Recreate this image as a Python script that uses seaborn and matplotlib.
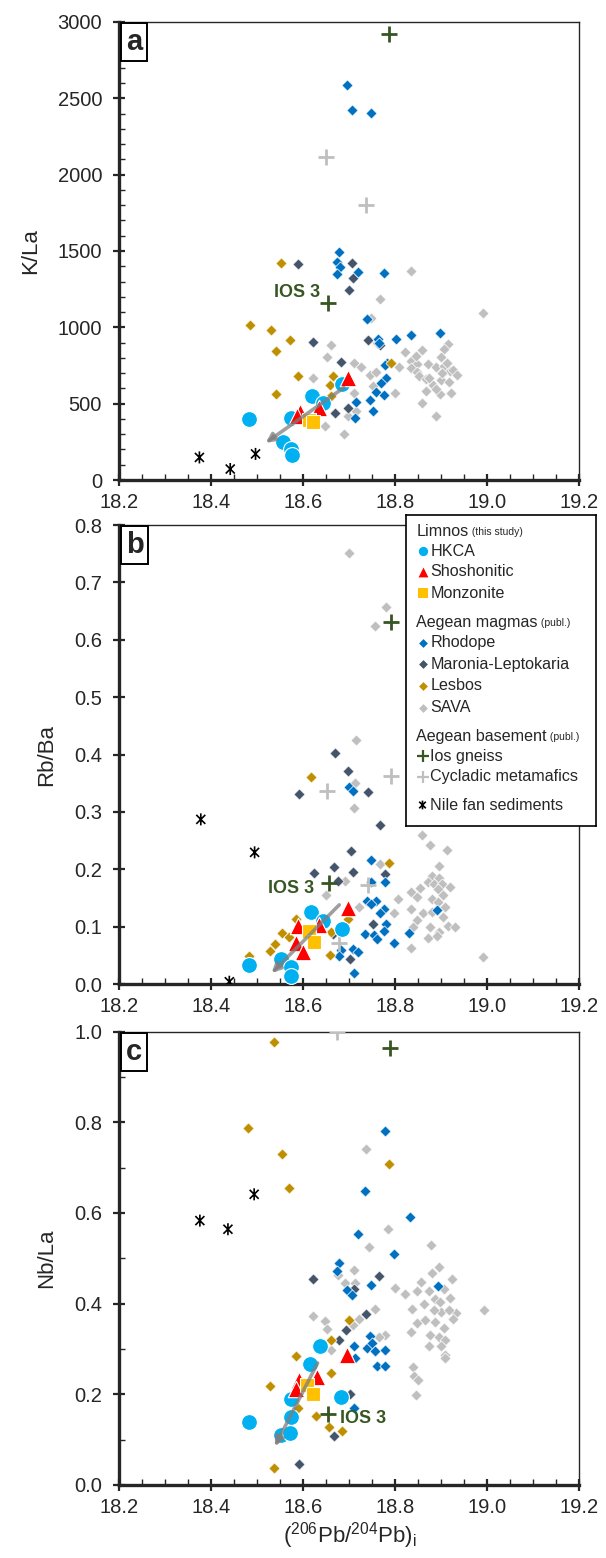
import numpy as np
import pandas as pd
import seaborn as sns
import matplotlib.pyplot as plt
from matplotlib.path import Path

# ---------------- data ----------------
# panel a : K/La
hkca_a_x = [18.482, 18.573, 18.619, 18.642, 18.556, 18.573, 18.575, 18.684]
hkca_a_y = [401, 406, 548, 505, 246, 204, 162, 630]
shosh_a_x = [18.697, 18.593, 18.633, 18.586]
shosh_a_y = [669, 443, 472, 420]
monz_a_x = [18.613, 18.621]
monz_a_y = [395, 380]
rhodope_a_x = [18.695, 18.705, 18.746, 18.678, 18.674, 18.679, 18.673, 18.719, 18.775, 18.738,
               18.762, 18.802, 18.834, 18.896, 18.781, 18.777, 18.780, 18.768, 18.759, 18.775,
               18.714, 18.744, 18.751, 18.713, 18.700, 18.765]
rhodope_a_y = [2590, 2422, 2406, 1494, 1425, 1392, 1348, 1364, 1357, 1053,
               921, 921, 950, 965, 768, 753, 666, 637, 578, 556,
               508, 524, 454, 409, 640, 900]
maronia_a_x = [18.589, 18.705, 18.708, 18.700, 18.621, 18.741, 18.767, 18.681, 18.696, 18.669]
maronia_a_y = [1412, 1423, 1324, 1244, 905, 914, 884, 772, 469, 437]
lesbos_a_x = [18.552, 18.484, 18.529, 18.570, 18.541, 18.588, 18.540, 18.791, 18.664, 18.661, 18.657]
lesbos_a_y = [1423, 1013, 982, 919, 844, 682, 566, 768, 684, 548, 620]
sava_a_x = [18.834, 18.767, 18.990, 18.659, 18.651, 18.621, 18.646, 18.689, 18.710, 18.725,
            18.744, 18.757, 18.808, 18.751, 18.710, 18.800, 18.715, 18.698, 18.834, 18.848,
            18.834, 18.846, 18.872, 18.852, 18.888, 18.905, 18.918, 18.866, 18.882, 18.899,
            18.917, 18.867, 18.896, 18.920, 18.858, 18.889, 18.874, 18.902, 18.888, 18.914,
            18.906, 18.899, 18.857, 18.844, 18.821, 18.912, 18.925, 18.933, 18.748, 18.760]
sava_a_y = [1370, 1185, 1091, 884, 803, 670, 353, 299, 768, 742,
            688, 710, 738, 616, 567, 567, 454, 419, 782, 760,
            732, 710, 760, 681, 738, 747, 716, 659, 622, 655,
            644, 585, 563, 567, 502, 421, 666, 699, 594, 894,
            855, 807, 851, 812, 840, 764, 720, 687, 1060, 900]
nile_a_x = [18.374, 18.441, 18.496]
nile_a_y = [148, 72, 171]
ios_a_x = [18.786, 18.653]
ios_a_y = [2924, 1161]
cyc_a_x = [18.649, 18.737]
cyc_a_y = [2116, 1804]

# panel b : Rb/Ba
hkca_b_x = [18.616, 18.642, 18.684, 18.482, 18.552, 18.574, 18.573]
hkca_b_y = [0.126, 0.109, 0.096, 0.033, 0.043, 0.029, 0.014]
shosh_b_x = [18.698, 18.589, 18.635, 18.585, 18.599]
shosh_b_y = [0.132, 0.101, 0.103, 0.071, 0.056]
monz_b_x = [18.612, 18.623]
monz_b_y = [0.092, 0.074]
rhodope_b_x = [18.699, 18.709, 18.746, 18.746, 18.777, 18.738, 18.758, 18.747, 18.775, 18.766,
               18.780, 18.775, 18.733, 18.754, 18.761, 18.830, 18.797, 18.891, 18.709, 18.718,
               18.710, 18.682, 18.677]
rhodope_b_y = [0.343, 0.337, 0.217, 0.177, 0.177, 0.145, 0.145, 0.139, 0.131, 0.123,
               0.105, 0.092, 0.087, 0.085, 0.078, 0.089, 0.071, 0.129, 0.061, 0.056,
               0.020, 0.059, 0.049]
maronia_b_x = [18.591, 18.669, 18.696, 18.740, 18.766, 18.704, 18.667, 18.623, 18.708, 18.676,
               18.777, 18.752, 18.665, 18.701]
maronia_b_y = [0.331, 0.402, 0.372, 0.335, 0.277, 0.232, 0.204, 0.193, 0.195, 0.179,
               0.192, 0.105, 0.087, 0.043]
lesbos_b_x = [18.616, 18.787, 18.698, 18.585, 18.554, 18.569, 18.538, 18.527, 18.658, 18.481, 18.660]
lesbos_b_y = [0.361, 0.211, 0.113, 0.114, 0.089, 0.0825, 0.070, 0.058, 0.0505, 0.048, 0.091]
sava_b_x = [18.699, 18.780, 18.755, 18.715, 18.712, 18.710, 18.766, 18.690, 18.649, 18.721,
            18.857, 18.875, 18.913, 18.894, 18.879, 18.895, 18.871, 18.885, 18.901, 18.919,
            18.892, 18.904, 18.853, 18.835, 18.848, 18.879, 18.892, 18.806, 18.834, 18.907,
            18.861, 18.879, 18.797, 18.848, 18.904, 18.839, 18.875, 18.915, 18.929, 18.894,
            18.872, 18.890, 18.834, 18.990]
sava_b_y = [0.751, 0.657, 0.624, 0.425, 0.351, 0.307, 0.209, 0.180, 0.155, 0.135,
            0.260, 0.242, 0.2335, 0.2057, 0.188, 0.184, 0.178, 0.175, 0.174, 0.1685,
            0.165, 0.155, 0.167, 0.161, 0.152, 0.149, 0.143, 0.1476, 0.131, 0.1335,
            0.1232, 0.126, 0.1243, 0.1116, 0.116, 0.100, 0.100, 0.101, 0.100, 0.0913,
            0.080, 0.084, 0.062, 0.0465]
nile_b_x = [18.377, 18.494, 18.439]
nile_b_y = [0.287, 0.2295, 0.004]
ios_b_x = [18.790, 18.655]
ios_b_y = [0.631, 0.1766]
cyc_b_x = [18.652, 18.790, 18.740, 18.677]
cyc_b_y = [0.337, 0.363, 0.1726, 0.072]

# panel c : Nb/La
hkca_c_x = [18.637, 18.615, 18.573, 18.681, 18.481, 18.573, 18.551, 18.572]
hkca_c_y = [0.306, 0.267, 0.190, 0.193, 0.139, 0.149, 0.111, 0.115]
shosh_c_x = [18.695, 18.590, 18.630, 18.583]
shosh_c_y = [0.287, 0.232, 0.238, 0.212]
monz_c_x = [18.607, 18.622]
monz_c_y = [0.221, 0.201]
rhodope_c_x = [18.778, 18.735, 18.831, 18.719, 18.798, 18.678, 18.674, 18.746, 18.892, 18.695,
               18.705, 18.745, 18.711, 18.739, 18.749, 18.756, 18.778, 18.761, 18.778, 18.711, 18.713]
rhodope_c_y = [0.781, 0.648, 0.591, 0.553, 0.510, 0.489, 0.471, 0.442, 0.439, 0.429,
               0.418, 0.328, 0.307, 0.302, 0.313, 0.295, 0.297, 0.262, 0.262, 0.169, 0.280]
maronia_c_x = [18.622, 18.764, 18.710, 18.737, 18.693, 18.678, 18.702, 18.667, 18.590]
maronia_c_y = [0.454, 0.460, 0.432, 0.377, 0.342, 0.320, 0.201, 0.109, 0.046]
lesbos_c_x = [18.537, 18.480, 18.553, 18.568, 18.787, 18.699, 18.659, 18.584, 18.659, 18.527,
              18.589, 18.627, 18.656, 18.685, 18.537]
lesbos_c_y = [0.976, 0.788, 0.730, 0.655, 0.708, 0.364, 0.320, 0.284, 0.247, 0.2175,
              0.170, 0.153, 0.128, 0.120, 0.037]
sava_c_x = [18.737, 18.784, 18.743, 18.878, 18.895, 18.924, 18.905, 18.880, 18.800, 18.822,
            18.856, 18.847, 18.873, 18.836, 18.862, 18.887, 18.918, 18.898, 18.900, 18.931,
            18.916, 18.993, 18.884, 18.865, 18.887, 18.905, 18.926, 18.847, 18.835, 18.876,
            18.895, 18.909, 18.900, 18.907, 18.909, 18.873, 18.838, 18.840, 18.849, 18.845,
            18.622, 18.647, 18.652, 18.659, 18.676, 18.710, 18.691, 18.713, 18.722, 18.756,
            18.778, 18.764, 18.709]
sava_c_y = [0.741, 0.564, 0.524, 0.530, 0.481, 0.454, 0.432, 0.467, 0.434, 0.421,
            0.447, 0.427, 0.428, 0.388, 0.400, 0.410, 0.412, 0.403, 0.381, 0.379,
            0.386, 0.386, 0.386, 0.364, 0.359, 0.346, 0.366, 0.357, 0.337, 0.331,
            0.326, 0.320, 0.306, 0.287, 0.280, 0.307, 0.260, 0.240, 0.232, 0.199,
            0.373, 0.361, 0.344, 0.297, 0.464, 0.475, 0.445, 0.445, 0.367, 0.388,
            0.331, 0.326, 0.353]
nile_c_x = [18.375, 18.436, 18.493]
nile_c_y = [0.583, 0.564, 0.641]
ios_c_x = [18.788, 18.653]
ios_c_y = [0.963, 0.157]
cyc_c_x = [18.674]
cyc_c_y = [1.0]

# grey trend arrows (tail -> head) and IOS 3 labels
arrow_a = [(18.688, 605), (18.518, 243)]
arrow_b = [(18.678, 0.138), (18.531, 0.019)]
arrow_c = [(18.631, 0.269), (18.538, 0.085)]
ios3_label = {"a": (18.636, 1225), "b": (18.623, 0.167), "c": (18.679, 0.147)}

# ---------------- style ----------------
sns.set_style("ticks")
plt.rcParams['font.family'] = ['Liberation Sans', 'DejaVu Sans']
plt.rcParams['mathtext.fontset'] = 'custom'
plt.rcParams['mathtext.rm'] = 'Liberation Sans'
plt.rcParams['mathtext.it'] = 'Liberation Sans'

asterisk = Path([(0, -1), (0, 1), (-0.75, -0.75), (0.75, 0.75), (-0.75, 0.75), (0.75, -0.75)],
                [Path.MOVETO, Path.LINETO] * 3)

IOS_GREEN = '#375623'
styles = {
    'SAVA': dict(marker='D', s=32, color='#BFBFBF', edgecolor='white', linewidth=0.5),
    'Maronia-Leptokaria': dict(marker='D', s=32, color='#44546A', edgecolor='white', linewidth=0.5),
    'Rhodope': dict(marker='D', s=32, color='#0070C0', edgecolor='white', linewidth=0.5),
    'Lesbos': dict(marker='D', s=32, color='#BF8F00', edgecolor='white', linewidth=0.5),
    'Cycladic metamafics': dict(marker='+', s=130, color='#BFBFBF', edgecolor='#BFBFBF', linewidth=2),
    'Ios gneiss': dict(marker='+', s=130, color=IOS_GREEN, edgecolor=IOS_GREEN, linewidth=2),
    'Nile fan sediments': dict(marker=asterisk, s=75, color='none', edgecolor='black', linewidth=1.2),
    'HKCA': dict(marker='o', s=130, color='#00B0F0', edgecolor='white', linewidth=0.8),
    'Shoshonitic': dict(marker='^', s=140, color='#FF0000', edgecolor='white', linewidth=0.8),
    'Monzonite': dict(marker='s', s=110, color='#FFC000', edgecolor='white', linewidth=0.8),
}

panels = [
    dict(tag='a', ylabel='K/La', ylim=(0, 3000), major=500, minor=100, fmt='{:.0f}', arrow=arrow_a,
         data={'SAVA': (sava_a_x, sava_a_y), 'Maronia-Leptokaria': (maronia_a_x, maronia_a_y),
               'Rhodope': (rhodope_a_x, rhodope_a_y), 'Lesbos': (lesbos_a_x, lesbos_a_y),
               'Cycladic metamafics': (cyc_a_x, cyc_a_y), 'Ios gneiss': (ios_a_x, ios_a_y),
               'Nile fan sediments': (nile_a_x, nile_a_y), 'HKCA': (hkca_a_x, hkca_a_y),
               'Shoshonitic': (shosh_a_x, shosh_a_y), 'Monzonite': (monz_a_x, monz_a_y)},
         ios_ha='right'),
    dict(tag='b', ylabel='Rb/Ba', ylim=(0, 0.8), major=0.1, minor=None, fmt='{:.1f}', arrow=arrow_b,
         data={'SAVA': (sava_b_x, sava_b_y), 'Maronia-Leptokaria': (maronia_b_x, maronia_b_y),
               'Rhodope': (rhodope_b_x, rhodope_b_y), 'Lesbos': (lesbos_b_x, lesbos_b_y),
               'Cycladic metamafics': (cyc_b_x, cyc_b_y), 'Ios gneiss': (ios_b_x, ios_b_y),
               'Nile fan sediments': (nile_b_x, nile_b_y), 'HKCA': (hkca_b_x, hkca_b_y),
               'Shoshonitic': (shosh_b_x, shosh_b_y), 'Monzonite': (monz_b_x, monz_b_y)},
         ios_ha='right'),
    dict(tag='c', ylabel='Nb/La', ylim=(0, 1.0), major=0.2, minor=0.1, fmt='{:.1f}', arrow=arrow_c,
         data={'SAVA': (sava_c_x, sava_c_y), 'Maronia-Leptokaria': (maronia_c_x, maronia_c_y),
               'Rhodope': (rhodope_c_x, rhodope_c_y), 'Lesbos': (lesbos_c_x, lesbos_c_y),
               'Cycladic metamafics': (cyc_c_x, cyc_c_y), 'Ios gneiss': (ios_c_x, ios_c_y),
               'Nile fan sediments': (nile_c_x, nile_c_y), 'HKCA': (hkca_c_x, hkca_c_y),
               'Shoshonitic': (shosh_c_x, shosh_c_y), 'Monzonite': (monz_c_x, monz_c_y)},
         ios_ha='left'),
]

fig = plt.figure(figsize=(6.06, 15.58), dpi=100)
rects = [[0.197, 0.6919, 0.759, 0.2940],
         [0.197, 0.3684, 0.759, 0.2946],
         [0.197, 0.0469, 0.759, 0.2910]]

for p, r in zip(panels, rects):
    ax = fig.add_axes(r)
    for name, (xs, ys) in p['data'].items():
        df = pd.DataFrame({'pb': xs, 'ratio': ys})
        sns.scatterplot(data=df, x='pb', y='ratio', ax=ax, legend=False, zorder=3, **styles[name])

    (x0, y0), (x1, y1) = p['arrow']
    ax.annotate('', xy=(x1, y1), xytext=(x0, y0), zorder=6,
                arrowprops=dict(arrowstyle='-|>', color='#7F7F7F', lw=2.6, alpha=0.75,
                                mutation_scale=13, shrinkA=0, shrinkB=0))

    lx, ly = ios3_label[p['tag']]
    ax.text(lx, ly, 'IOS 3', color=IOS_GREEN, fontsize=13, fontweight='bold',
            ha=p['ios_ha'], va='center', zorder=7)

    ax.set_xlim(18.2, 19.2)
    ax.set_ylim(*p['ylim'])
    ax.xaxis.set_major_locator(plt.MultipleLocator(0.2))
    ax.xaxis.set_minor_locator(plt.MultipleLocator(0.05))
    ax.yaxis.set_major_locator(plt.MultipleLocator(p['major']))
    if p['minor']:
        ax.yaxis.set_minor_locator(plt.MultipleLocator(p['minor']))
    ax.xaxis.set_major_formatter(plt.FuncFormatter(lambda v, _: '{:.1f}'.format(v)))
    ax.yaxis.set_major_formatter(plt.FuncFormatter(lambda v, _, f=p['fmt']: f.format(v)))
    ax.tick_params(which='major', direction='inout', length=9, width=1.6, labelsize=14.5)
    ax.tick_params(axis='y', which='major', pad=8)
    ax.tick_params(axis='x', which='major', pad=5)
    ax.tick_params(which='minor', direction='in', length=4, width=1.0)
    for side in ['left', 'bottom']:
        ax.spines[side].set_linewidth(2.4)
    for side in ['top', 'right']:
        ax.spines[side].set_linewidth(1.0)
    ax.set_ylabel(p['ylabel'], fontsize=16, labelpad=12)
    ax.set_xlabel('')
    ax.annotate(p['tag'], xy=(0, 1), xycoords='axes fraction', xytext=(4.5, -4.5),
                textcoords='offset points', ha='left', va='top',
                fontsize=21, fontweight='bold', zorder=8,
                bbox=dict(boxstyle='square,pad=0.17', fc='white', ec='black', lw=1.4))
    if p['tag'] == 'c':
        ax.set_xlabel(r'($^{206}$Pb/$^{204}$Pb)$_{\mathrm{i}}$', fontsize=16, labelpad=2)

# ---------------- legend box (upper right of panel b) ----------------
lg = fig.add_axes([406 / 606, 1 - 826 / 1558, 190 / 606, 311 / 1558], zorder=10)
lg.set_xlim(406, 596)
lg.set_ylim(826, 515)
lg.set_xticks([])
lg.set_yticks([])
lg.set_facecolor('white')
for s in lg.spines.values():
    s.set_linewidth(1.2)
    s.set_color('black')

headers = [("Limnos", "(this study)", 531.5), ("Aegean magmas", "(publ.)", 622.5),
           ("Aegean basement", "(publ.)", 736)]
for main, small, yy in headers:
    t = lg.text(416.5, yy, main, fontsize=11.6, va='center', ha='left')
    lg.annotate(' ' + small, xy=(1, 0.12), xycoords=t, fontsize=7.5, va='bottom', ha='left')

entries = [('HKCA', 551, 45), ('Shoshonitic', 572, 50), ('Monzonite', 593, 45),
           ('Rhodope', 642.5, 20), ('Maronia-Leptokaria', 664, 20), ('Lesbos', 685.5, 20),
           ('SAVA', 707.5, 20), ('Ios gneiss', 756, 70), ('Cycladic metamafics', 777, 70),
           ('Nile fan sediments', 805, 40)]
for name, yy, ss in entries:
    st = dict(styles[name])
    st['s'] = ss
    if st['marker'] in ('o', '^', 's', 'D'):
        st['linewidth'] = 0
    elif st['marker'] == '+':
        st['linewidth'] = 1.6
    lg.scatter([422.5], [yy], **st)
    lg.text(430.5, yy, name, fontsize=11.6, va='center', ha='left')

fig.savefig('out.png', dpi=100)
